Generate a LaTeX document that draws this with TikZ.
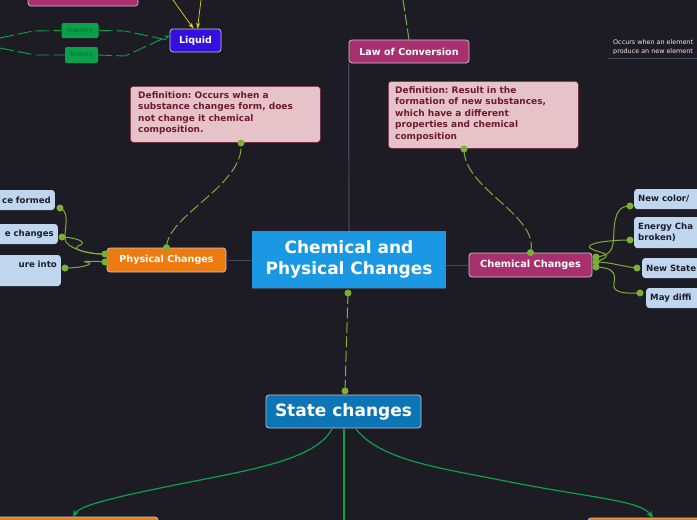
\documentclass[tikz,border=0pt]{standalone}
\usepackage{fontspec}
\setmainfont{DejaVu Sans}
\frenchspacing
\usetikzlibrary{arrows.meta}
\definecolor{bg}{HTML}{1D1C24}
\definecolor{slate}{HTML}{3E4B5E}
\definecolor{lime}{HTML}{7CB034}
\definecolor{dgreen}{HTML}{0AA14A}
\definecolor{magen}{HTML}{A9306F}
\definecolor{orng}{HTML}{EE7A12}
\definecolor{cblue}{HTML}{1A98E3}
\definecolor{sblue}{HTML}{0B75B5}
\definecolor{violet}{HTML}{3410E0}
\definecolor{lblue}{HTML}{BFD6EE}
\definecolor{ltext}{HTML}{1C1C2A}
\definecolor{dfill}{HTML}{E6C3C9}
\definecolor{dborder}{HTML}{7A2036}
\definecolor{dtext}{HTML}{6E1A30}
\definecolor{gtext}{HTML}{0B6B32}
\definecolor{yel}{HTML}{E8D21A}
\definecolor{bord}{HTML}{C8C8D0}
\tikzset{
  box/.style={rounded corners=3pt, draw=bord, line width=0.7pt, inner sep=0pt, text=white, font=\bfseries},
  leaf/.style={rounded corners=3pt, fill=lblue, inner sep=4pt, text=ltext, font=\bfseries\fontsize{8.6}{11}\selectfont, text width=72pt, align=left, anchor=west},
  leafl/.style={rounded corners=3pt, fill=lblue, inner sep=4pt, text=ltext, font=\bfseries\fontsize{8.6}{11}\selectfont, anchor=east, text width=75pt, align=right},
  defbox/.style={rounded corners=3pt, fill=dfill, draw=dborder, line width=0.6pt, anchor=north west, inner sep=0pt},
  deftext/.style={anchor=north west, text=dtext, font=\bfseries\fontsize{9}{11.5}\selectfont, align=left, inner sep=0pt},
  gbox/.style={rounded corners=2pt, fill=dgreen, inner sep=0pt, text=gtext, font=\fontsize{6}{7}\selectfont},
  limedash/.style={draw=lime, line width=1pt, dash pattern=on 11pt off 3.5pt},
  limeline/.style={draw=lime, line width=1pt},
  dot/.style={fill=lime, circle, inner sep=0pt, minimum size=7pt},
  gdash/.style={draw=dgreen, line width=0.9pt, dash pattern=on 14pt off 4pt},
  garrow/.style={draw=dgreen, line width=1.2pt, -{Stealth[length=7pt,width=6pt]}},
  yarrow/.style={draw=yel, line width=0.7pt, -{Stealth[length=6pt,width=4pt]}},
}
\begin{document}
\begin{tikzpicture}[x=1pt,y=-1pt]
\useasboundingbox (0,0) rectangle (697,520);
\fill[bg] (0,0) rectangle (697,520);
\clip (0,0) rectangle (697,520);

% top-left partial box
\node[box, fill=magen, minimum width=110pt, minimum height=30pt] (topbox) at (83,-9) {};

% Liquid and its inputs
\node[box, fill=violet, minimum width=51pt, minimum height=23pt, font=\bfseries\fontsize{9.5}{11}\selectfont] (liquid) at (195.5,40.5) {Liquid};
\node[gbox, minimum width=37pt, minimum height=15pt] (freezing) at (80,30.5) {Freezing};
\node[gbox, minimum width=33pt, minimum height=16pt] (melting) at (81.5,55) {Melting};
\coordinate (fin) at (0,38);
\coordinate (min) at (0,48);
\coordinate (yt1) at (173,0);
\coordinate (yt2) at (201,0);
\draw[gdash] (fin) -- (33,31) -- (freezing.west);
\draw[gdash] (freezing.east) -- (125,31) -- (liquid.west);
\draw[gdash] (min) -- (35,55) -- (melting.west);
\draw[gdash, -{Stealth[length=5pt,width=4pt]}] (melting.east) -- (125,56) -- ([yshift=5pt]liquid.west);
\draw[yarrow] (yt1) -- ([xshift=-2pt]liquid.north);
\draw[yarrow] (yt2) -- ([xshift=2pt]liquid.north);

% Law of conversion
\node[box, fill=magen, minimum width=120pt, minimum height=23pt, font=\bfseries\fontsize{9.6}{11}\selectfont] (law) at (409,51.5) {Law of Conversion};
\coordinate (lawtop) at (403,0);
\draw[limedash] (lawtop) -- (law.north);

% right note
\node[anchor=west, text=white!85!gray, font=\fontsize{6.4}{8.6}\selectfont, align=left, inner sep=0pt] (note) at (613,47.5) {Occurs when an element\\produce an new element};
\coordinate (nl1) at (608,58);
\coordinate (nl2) at (697,58);
\draw[slate, line width=0.8pt] (nl1) -- (nl2);

% definitions
\node[defbox, minimum width=190pt, minimum height=56pt] (defL) at (130,86) {};
\node[deftext] (defLt) at (138,91) {Definition: Occurs when a\\substance changes form, does\\not change it chemical\\composition.};
\node[defbox, minimum width=190pt, minimum height=67pt] (defR) at (388,81) {};
\node[deftext] (defRt) at (395,86) {Definition: Result in the\\formation of new substances,\\which have a different\\properties and chemical\\composition};

% central
\node[fill=cblue, minimum width=194pt, minimum height=57pt, inner sep=0pt, text=white, align=center, font=\bfseries\fontsize{17}{21}\selectfont] (central) at (349,259.5) {Chemical and\\Physical Changes};
\draw[slate, line width=1.2pt] (central.north) -- (law.south west);
\draw[slate, line width=1pt] (central.south west) -- (central.south east);

% physical / chemical
\node[box, fill=orng, minimum width=119pt, minimum height=24pt, font=\bfseries\fontsize{9.6}{11}\selectfont] (phys) at (166.5,260) {Physical Changes};
\node[box, fill=magen, minimum width=123pt, minimum height=24pt, font=\bfseries\fontsize{9.8}{11}\selectfont] (chem) at (530.5,265) {Chemical Changes};
\draw[slate, line width=1pt] (central.west |- phys.east) -- (phys.east);
\draw[slate, line width=1pt] (central.east |- chem.west) -- (chem.west);

% definition connectors
\draw[limedash] (phys.north) .. controls (167,215) and (245,185) .. (241,143);
\node[dot] (dp1) at (phys.north) {};
\node[dot] (dp2) at (241,143) {};
\draw[limedash] (chem.north) .. controls (540,215) and (464,190) .. (464,149);
\node[dot] (dc1) at (chem.north) {};
\node[dot] (dc2) at (464,149) {};

% left leaves
\node[leafl, minimum height=20pt] (l1) at (55,200) {ce formed};
\node[leafl, minimum height=20pt] (l2) at (58,234) {e changes};
\node[leafl, minimum height=31pt, text depth=13pt] (l3) at (61,270.5) {ure into};
\coordinate (pd1) at (105,254);
\coordinate (pd2) at (105,262);
\draw[limeline] (60,208) .. controls (72,212) and (62,235) .. (66,242) .. controls (72,250) and (90,254) .. (pd1);
\draw[limeline] (62,237) .. controls (80,238) and (88,243) .. (78,246) .. controls (70,250) and (95,255) .. (pd1);
\draw[limeline] (65,268) .. controls (85,268) and (96,263) .. (86,262) .. controls (80,261) and (95,261) .. (pd2);
\node[dot] at (60,208) {};
\node[dot] at (62,237) {};
\node[dot] at (65,268) {};
\node[dot] at (pd1) {};
\node[dot] at (pd2) {};

% right leaves
\node[leaf, minimum height=20pt] (r1) at (634,199) {New color/};
\node[leaf, minimum height=31pt] (r2) at (634,232.5) {Energy Cha\\broken)};
\node[leaf, minimum height=20pt] (r3) at (642,268) {New State};
\node[leaf, minimum height=20pt] (r4) at (646,298) {May diffi};
\coordinate (cd1) at (596,257);
\coordinate (cd2) at (596,262);
\coordinate (cd3) at (596,267);
\draw[limeline] (cd1) .. controls (615,255) and (613,245) .. (614,230) .. controls (615,212) and (620,206) .. (630,206);
\draw[limeline] (630,240) .. controls (605,240) and (585,244) .. (590,248) .. controls (596,253) and (620,253) .. (cd2);
\draw[limeline] (cd2) .. controls (610,262) and (625,267) .. (637,268);
\draw[limeline] (cd3) .. controls (625,268) and (610,284) .. (615,289) .. controls (620,294) and (630,293) .. (640,293);
\node[dot] at (630,206) {};
\node[dot] at (630,240) {};
\node[dot] at (637,268) {};
\node[dot] at (640,293) {};
\node[dot] at (cd1) {};
\node[dot] at (cd2) {};
\node[dot] at (cd3) {};

% state changes
\node[box, fill=sblue, minimum width=155pt, minimum height=33pt, font=\bfseries\fontsize{17}{20}\selectfont] (state) at (343.5,411.5) {State changes};
\draw[limedash] (348,293) -- (345,391);
\node[dot] at (348,293) {};
\node[dot] at (345,391) {};

% bottom nodes
\node[box, fill=orng, minimum width=168pt, minimum height=26pt] (bl) at (74,530) {};
\node[box, fill=orng, minimum width=130pt, minimum height=26pt] (br) at (653,531) {};
\draw[garrow] (332,429) .. controls (315,460) and (250,470) .. (180,484) .. controls (120,496) and (80,505) .. (73,517);
\draw[garrow] (356,429) .. controls (380,460) and (440,468) .. (500,480) .. controls (590,498) and (640,500) .. (653,518);
\draw[dgreen, line width=1.2pt] (344,429) -- (344,520);
\end{tikzpicture}
\end{document}
